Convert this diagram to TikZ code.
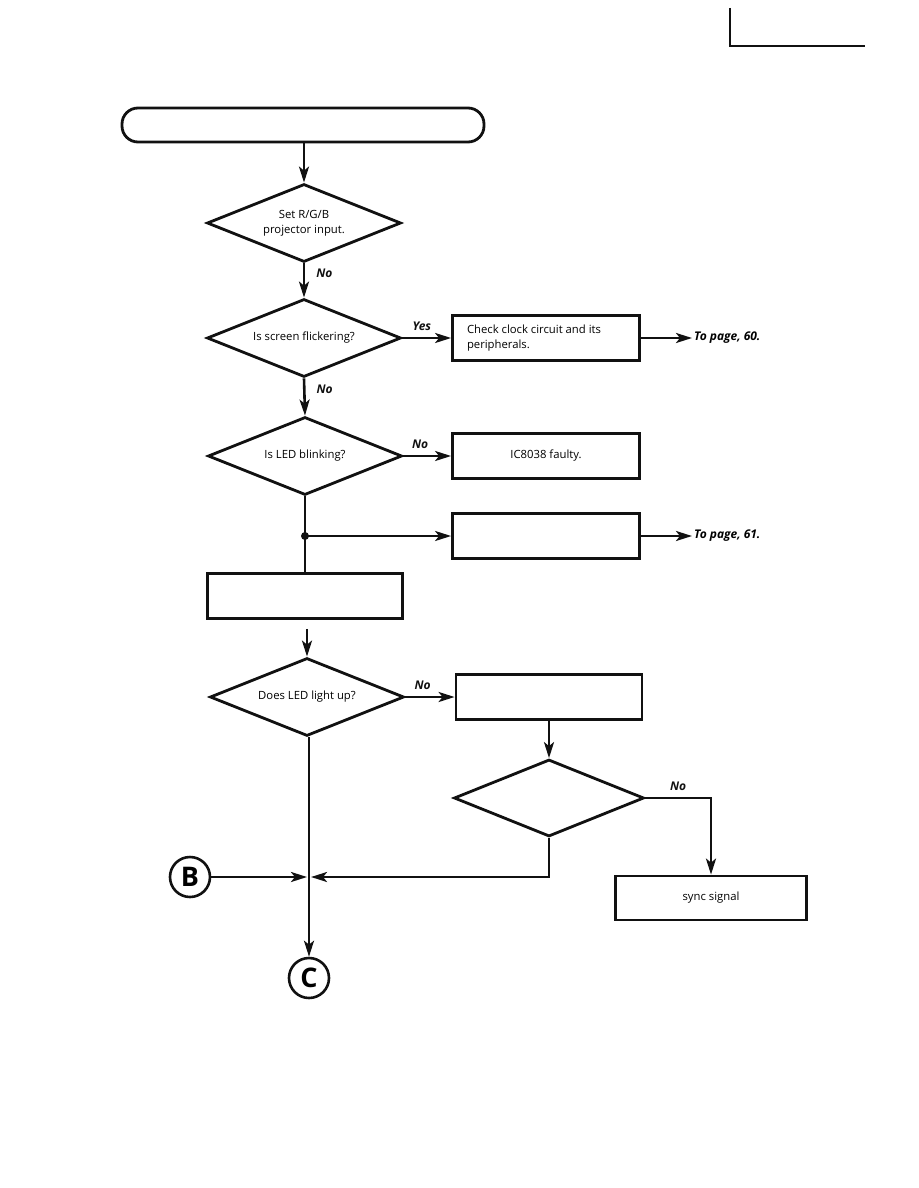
\documentclass[tikz,border=0pt]{standalone}
\usepackage{fontspec}
\setmainfont{Open Sans}
\usepackage{tikz}
\usetikzlibrary{arrows.meta, positioning, shapes.geometric, calc}
\definecolor{fink}{HTML}{111111}
\newcommand{\flowfont}{\fontsize{11.3}{15}\selectfont}
\tikzset{
  qbox/.style={draw=fink, shape=diamond, aspect=2.5, inner sep=0pt, line width=2.8pt,
               minimum width=194pt, minimum height=78pt, align=center, font=\flowfont},
  sbox/.style={draw=fink, rectangle, line width=2.8pt, minimum width=187pt,
               minimum height=45pt, align=flush left, font=\flowfont},
  conn/.style={draw=fink, circle, line width=2.6pt, minimum size=40pt, inner sep=0pt,
               font=\fontsize{27}{27}\selectfont\bfseries},
  lbl/.style={font=\fontsize{12}{14}\selectfont\bfseries\itshape, inner sep=2pt},
  arr/.style={-{Stealth[length=16pt, width=10pt, inset=4pt]}, line width=2.6pt, fink},
  lnk/.style={line width=2.6pt, fink},
}

\begin{document}
\begin{tikzpicture}[x=1pt, y=-1pt]
  \useasboundingbox (0,0) rectangle (918,1188);
  % page corner mark
  \draw[lnk] (730,8) -- (730,46) -- (865,46);
  % start
  \node[draw=fink, line width=2.8pt, rounded corners=16pt, minimum width=362pt,
        minimum height=34pt] (title) at (303,125) {};
  % decisions
  \node[qbox] (d1) at (304,223) {Set R/G/B\\projector input.};
  \node[qbox] (d2) at (304,338) {Is screen flickering?};
  \node[qbox] (d3) at (305,456) {Is LED blinking?};
  \node[qbox] (d4) at (307,697) {Does LED light up?};
  \node[qbox, minimum width=190pt, minimum height=77pt] (d5) at (549,798) {};
  % boxes
  \node[sbox, text width=158pt] (b1) at (546,338) {Check clock circuit and its\\peripherals.};
  \node[sbox, align=center] (b2) at (546,456) {IC8038 faulty.};
  \node[sbox] (b3) at (546,536) {};
  \node[sbox, minimum width=195pt] (b4) at (305,596) {};
  \node[sbox, minimum width=186pt] (b5) at (549,697) {};
  \node[sbox, minimum width=191pt, minimum height=44pt] (b6) at (711,898) {sync signal};
  % connectors
  \node[conn] (cB) at (190,877) {B};
  \node[conn] (cC) at (309,978) {C};
  \node[lbl, right] (p60) at (692,338) {To page, 60.};
  \node[lbl, right] (p61) at (692,536) {To page, 61.};

  \draw[arr] (title.south) ++(1,0) -- (d1.north);
  \draw[arr] (d1.south) -- node[lbl, right=9pt, pos=0.3] {No} (d2.north);
  \draw[arr] (d2.east) -- node[lbl, above=4pt, pos=0.4] {Yes} (b1.west);
  \draw[arr] (b1.east) -- (p60.west);
  \draw[arr] (d2.south) -- node[lbl, right=9pt, pos=0.3] {No} (d3.north);
  \draw[arr] (d3.east) -- node[lbl, above=4pt, pos=0.35] {No} (b2.west);
  \coordinate (j1) at (305,536);
  \draw[lnk] (d3.south) -- (j1) -- (b4.north);
  \fill[fink] (j1) circle (4pt);
  \draw[arr] (j1) -- (b3.west);
  \draw[arr] (b3.east) -- (p61.west);
  \draw[arr] (b4.south -| d4.north) ++(0,9) -- (d4.north);
  \draw[arr] (d4.east) -- node[lbl, above=4pt, pos=0.35] {No} (b5.west);
  \draw[arr] (b5.south) -- (d5.north);
  \draw[arr] (d5.east) -| node[lbl, above=4pt, pos=0.25] {No} (b6.north);
  \coordinate (m1) at (309,877);
  \draw[arr] (d5.south) |- ($(m1)+(2,0)$);
  \draw[arr] (cB.east) -- ($(m1)+(-2,0)$);
  \draw[arr] (d4.south -| cC.north) -- (cC.north);
\end{tikzpicture}
\end{document}
